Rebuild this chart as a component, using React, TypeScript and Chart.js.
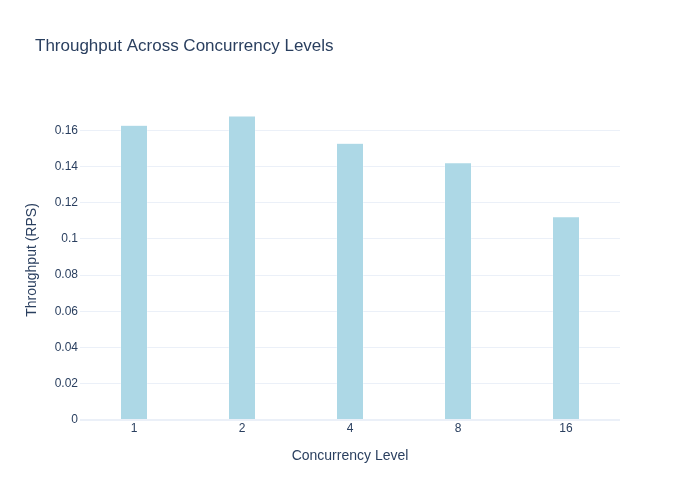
import { useEffect, useRef } from "react";
import { Chart, registerables, type ChartOptions, type Plugin } from "chart.js";

Chart.register(...registerables);

const chartTitle = "Throughput Across Concurrency Levels";
const concurrencyLevels = ["1", "2", "4", "8", "16"];
const throughputRps = [0.1628, 0.1679, 0.1528, 0.1421, 0.1122];
const yTickValues = [0, 0.02, 0.04, 0.06, 0.08, 0.1, 0.12, 0.14, 0.16];

const FONT = "'Liberation Sans', Arial, sans-serif";
const TEXT = "#2a3f5f";
const GRID = "#ebf0f8";

// plotly-style title drawn at top left
const titlePlugin: Plugin<"bar"> = {
  id: "plotTitle",
  afterDraw(chart) {
    const { ctx } = chart;
    ctx.save();
    ctx.font = `17px ${FONT}`;
    ctx.fillStyle = TEXT;
    ctx.textAlign = "left";
    ctx.textBaseline = "alphabetic";
    ctx.fillText(chartTitle, 35, 51);
    ctx.restore();
  },
};

export default function App() {
  const canvasRef = useRef<HTMLCanvasElement>(null);

  useEffect(() => {
    if (!canvasRef.current) return;

    const options: ChartOptions<"bar"> = {
      responsive: false,
      animation: false,
      layout: { padding: { top: 100, right: 80, left: 0, bottom: 0 } },
      plugins: {
        legend: { display: false },
        tooltip: { enabled: false },
      },
      scales: {
        x: {
          grid: { display: false, drawTicks: false },
          border: { display: false },
          ticks: { color: TEXT, font: { family: FONT, size: 12 }, padding: 1 },
          title: {
            display: true,
            text: "Concurrency Level",
            color: TEXT,
            font: { family: FONT, size: 14 },
            padding: { top: 0, bottom: 35 },
          },
          afterFit: (scale) => {
            scale.height = 80;
          },
        },
        y: {
          min: 0,
          max: 0.1767,
          grid: {
            color: GRID,
            lineWidth: (ctx) => (ctx.tick && ctx.tick.value === 0 ? 2 : 1),
            drawTicks: false,
          },
          border: { display: false },
          ticks: {
            color: TEXT,
            font: { family: FONT, size: 12 },
            padding: 2,
            callback: (v) => String(Number(Number(v).toFixed(2))),
          },
          afterBuildTicks: (scale) => {
            scale.ticks = yTickValues.map((value) => ({ value }));
          },
          title: {
            display: true,
            text: "Throughput (RPS)",
            color: TEXT,
            font: { family: FONT, size: 14 },
            padding: { top: 24, bottom: 24 },
          },
          afterFit: (scale) => {
            scale.width = 80;
          },
        },
      },
    };

    const chart = new Chart(canvasRef.current, {
      type: "bar",
      data: {
        labels: concurrencyLevels,
        datasets: [
          {
            data: throughputRps,
            backgroundColor: "#add8e6",
            borderColor: "#ffffff",
            borderWidth: 0.5,
            categoryPercentage: 1,
            barPercentage: 0.25,
          },
        ],
      },
      options,
      plugins: [titlePlugin],
    });

    return () => {
      chart.destroy();
    };
  }, []);

  return (
    <div style={{ position: "absolute", left: 0, top: 0, width: 700, height: 500, background: "#fff" }}>
      <canvas ref={canvasRef} width={700} height={500} style={{ width: 700, height: 500 }} />
    </div>
  );
}
